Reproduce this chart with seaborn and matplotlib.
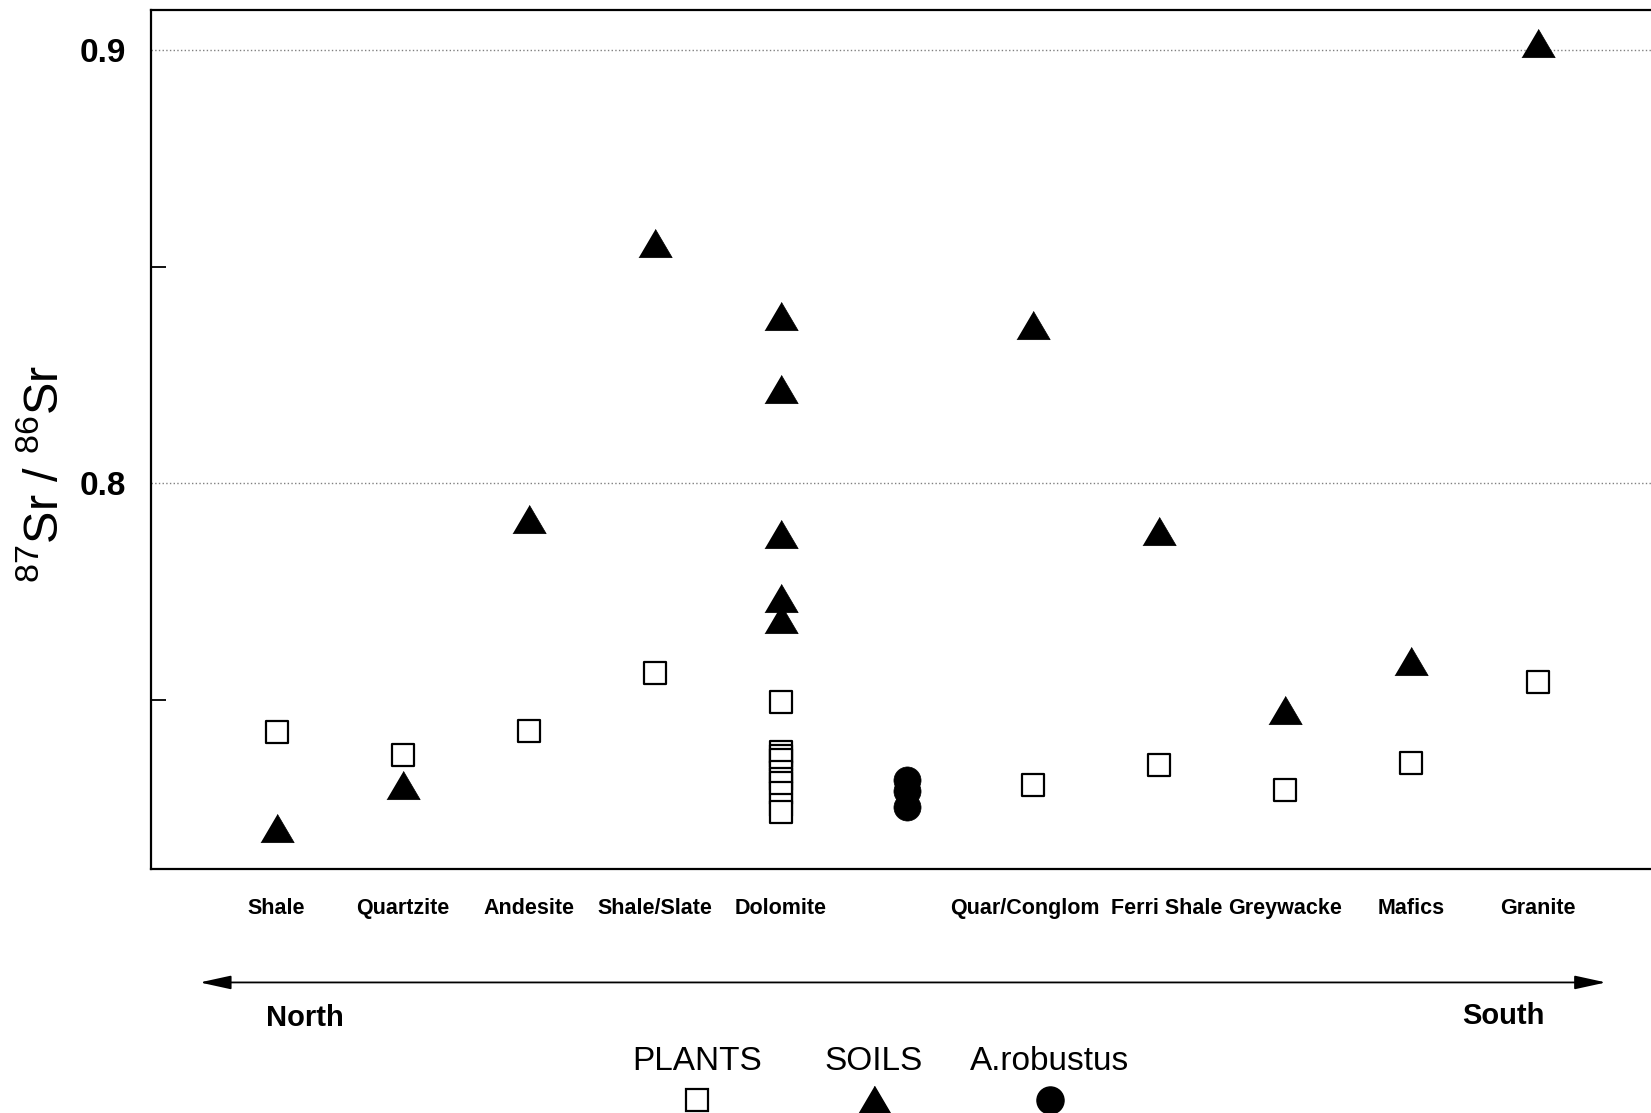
import matplotlib

matplotlib.use("Agg")

import matplotlib.pyplot as plt
import matplotlib.transforms as mtransforms
import numpy as np
import pandas as pd
import seaborn as sns
from matplotlib.lines import Line2D
from matplotlib.ticker import FixedLocator


# Rock types, north to south; the empty slot holds the A. robustus teeth.
CATEGORIES = [
    "Shale", "Quartzite", "Andesite", "Shale/Slate", "Dolomite", "",
    "Quar/Conglom", "Ferri Shale", "Greywacke", "Mafics", "Granite",
]

PLANT_SITES = [
    "Shale", "Quartzite", "Andesite", "Shale/Slate",
    "Dolomite", "Dolomite", "Dolomite", "Dolomite", "Dolomite",
    "Dolomite", "Dolomite", "Dolomite", "Dolomite", "Dolomite",
    "Quar/Conglom", "Ferri Shale", "Greywacke", "Mafics", "Granite",
]
PLANT_RATIO = [
    0.7426, 0.7372, 0.7428, 0.7562,
    0.7494, 0.7380, 0.7371, 0.7361, 0.7334, 0.7317,
    0.7307, 0.7284, 0.7257, 0.7241,
    0.7302, 0.7348, 0.7292, 0.7353, 0.7540,
]

SOIL_SITES = [
    "Shale", "Quartzite", "Andesite", "Shale/Slate",
    "Dolomite", "Dolomite", "Dolomite", "Dolomite", "Dolomite",
    "Quar/Conglom", "Ferri Shale", "Greywacke", "Mafics", "Granite",
]
SOIL_RATIO = [
    0.7204, 0.7304, 0.7917, 0.8555,
    0.8387, 0.8217, 0.7883, 0.7735, 0.7686,
    0.8365, 0.7890, 0.7477, 0.7589, 0.9017,
]

ROBUSTUS_SITES = ["", "", ""]
ROBUSTUS_RATIO = [0.7315, 0.7290, 0.7253]

LEGEND_LABELS = ["PLANTS", "SOILS", "A.robustus"]

TRIANGLE = [(-1.0, -0.85), (1.0, -0.85), (0.0, 0.85)]

# small horizontal nudges (points) so neighbouring labels don't touch
LABEL_NUDGE = {"Quar/Conglom": -6, "Ferri Shale": 5}


def positions(sites):
    lookup = {name: i + 1 for i, name in enumerate(CATEGORIES)}
    return [lookup[s] for s in sites]


plants = pd.DataFrame({"pos": positions(PLANT_SITES), "ratio": PLANT_RATIO})
soils = pd.DataFrame({"pos": positions(SOIL_SITES), "ratio": SOIL_RATIO})
robustus = pd.DataFrame({"pos": positions(ROBUSTUS_SITES), "ratio": ROBUSTUS_RATIO})

sns.set_theme(style="white")
plt.rcParams["font.family"] = ["Liberation Sans", "DejaVu Sans"]
plt.rcParams["mathtext.fontset"] = "custom"
plt.rcParams["mathtext.rm"] = "Liberation Sans"
plt.rcParams["mathtext.default"] = "regular"
plt.rcParams["text.color"] = "black"
plt.rcParams["xtick.color"] = "black"
plt.rcParams["ytick.color"] = "black"

fig = plt.figure(figsize=(16.51, 11.13), dpi=100)
ax = fig.add_axes([0.0912, 0.2195, 0.9088, 0.7711])

sns.scatterplot(data=plants, x="pos", y="ratio", ax=ax, marker="s", s=16.5 ** 2,
                facecolor="white", edgecolor="black", linewidth=1.6, zorder=3)
sns.scatterplot(data=soils, x="pos", y="ratio", ax=ax, marker=TRIANGLE, s=24 ** 2,
                color="black", edgecolor="black", linewidth=0.5, zorder=4)
sns.scatterplot(data=robustus, x="pos", y="ratio", ax=ax, marker="o", s=19.5 ** 2,
                color="black", edgecolor="black", linewidth=0.5, zorder=4)

ax.set_xlim(0, 11.9)
ax.set_ylim(0.71095, 0.90925)
ax.set_xlabel("")
ax.set_ylabel("")

ax.set_xticks(np.arange(1, len(CATEGORIES) + 1))
ax.set_xticklabels(CATEGORIES, fontsize=15.5, fontweight="bold", color="black")
ax.tick_params(axis="x", direction="in", length=19, width=1.3, color="black", pad=21)
for label in ax.get_xticklabels():
    dx = LABEL_NUDGE.get(label.get_text(), 0)
    if dx:
        shift = mtransforms.ScaledTranslation(dx / 72, 0, fig.dpi_scale_trans)
        label.set_transform(label.get_transform() + shift)

ax.set_yticks([0.8, 0.9])
ax.set_yticklabels(["0.8", "0.9"], fontsize=24, fontweight="bold", color="black")
ax.yaxis.set_minor_locator(FixedLocator([0.75, 0.85]))
ax.tick_params(axis="y", which="major", direction="in", length=22, width=1.3,
               color="black", pad=18)
ax.tick_params(axis="y", which="minor", direction="in", length=11, width=1.3,
               color="black", left=True)
ax.yaxis.grid(True, which="major", linestyle=":", color="0.5", linewidth=1.0)
ax.xaxis.grid(False)

for side in ["left", "top", "bottom"]:
    ax.spines[side].set_color("black")
    ax.spines[side].set_linewidth(1.6)
ax.spines["right"].set_visible(False)

fig.text(0.027, 0.574, r"$^{87}$Sr / $^{86}$Sr", rotation=90, fontsize=35,
         ha="center", va="center", color="black")

# North-South arrow
ax.annotate("", xy=(0.9727, 0.1173), xytext=(0.121, 0.1173),
            xycoords="figure fraction", textcoords="figure fraction",
            arrowprops=dict(arrowstyle="<|-|>,head_length=1.6,head_width=0.35",
                            color="black", lw=1.3, shrinkA=0, shrinkB=0))
fig.text(0.1849, 0.0853, "North", fontsize=21, fontweight="bold", ha="center", va="center")
fig.text(0.9108, 0.0871, "South", fontsize=21, fontweight="bold", ha="center", va="center")

# Legend row at the bottom
legend_x = [0.4222, 0.5294, 0.636]
legend_style = [
    dict(marker="s", markersize=16.5, markerfacecolor="white",
         markeredgecolor="black", markeredgewidth=1.6),
    dict(marker=TRIANGLE, markersize=24, markerfacecolor="black",
         markeredgecolor="black"),
    dict(marker="o", markersize=19.5, markerfacecolor="black",
         markeredgecolor="black"),
]
for x, label, style in zip(legend_x, LEGEND_LABELS, legend_style):
    fig.text(x, 0.0464, label, fontsize=24, ha="center", va="center")
    fig.add_artist(Line2D([x], [0.012], linestyle="none", transform=fig.transFigure, **style))

fig.savefig("out.png", dpi=100, facecolor="white")
